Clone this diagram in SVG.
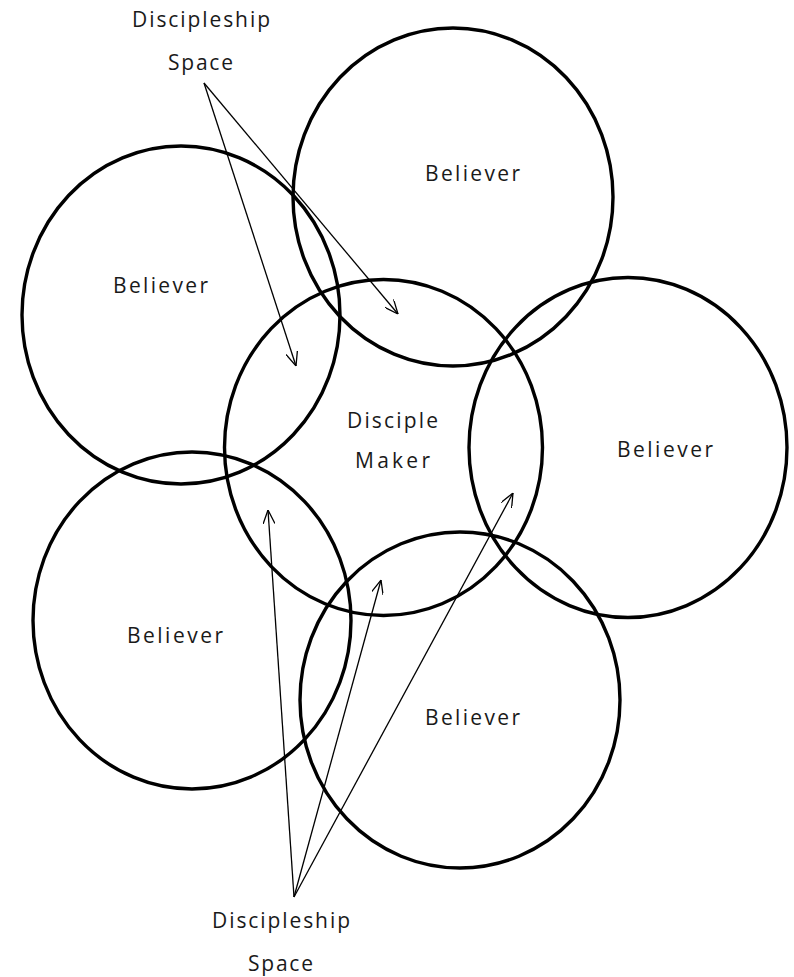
<svg xmlns="http://www.w3.org/2000/svg" width="794" height="977" viewBox="0 0 794 977">
<style>
.c{fill:none;stroke:#000;stroke-width:3.4}
.t{font-family:"Open Sans","Liberation Sans",sans-serif;font-size:21px;fill:#1a1a1a}
.a{fill:none;stroke:#000;stroke-width:1.3}
</style>
<defs>
<marker id="arr" viewBox="0 0 14 12" refX="14" refY="6" markerWidth="14" markerHeight="12" markerUnits="userSpaceOnUse" orient="auto">
<path d="M0,0 L14,6 L0,12" fill="none" stroke="#000" stroke-width="1.3"/>
</marker>
</defs>
<rect width="794" height="977" fill="#fff"/>
<g id="believer-top">
<ellipse class="c" cx="453" cy="197" rx="160" ry="169"/>
<text class="t" x="425" y="181" textLength="95" lengthAdjust="spacing">Believer</text>
</g>
<g id="believer-left">
<ellipse class="c" cx="181" cy="315" rx="159" ry="169"/>
<text class="t" x="113" y="293" textLength="95" lengthAdjust="spacing">Believer</text>
</g>
<g id="disciple-maker">
<ellipse class="c" cx="383.5" cy="447.5" rx="159" ry="168"/>
<text class="t" x="347" y="428" textLength="91" lengthAdjust="spacing">Disciple</text>
<text class="t" x="355" y="468" textLength="75" lengthAdjust="spacing">Maker</text>
</g>
<g id="believer-right">
<ellipse class="c" cx="628" cy="447.5" rx="159" ry="170"/>
<text class="t" x="617" y="457" textLength="96" lengthAdjust="spacing">Believer</text>
</g>
<g id="believer-bottom-left">
<ellipse class="c" cx="192" cy="620.5" rx="159" ry="168.5"/>
<text class="t" x="127" y="643" textLength="96" lengthAdjust="spacing">Believer</text>
</g>
<g id="believer-bottom-right">
<ellipse class="c" cx="460" cy="700" rx="160" ry="168"/>
<text class="t" x="425" y="725" textLength="95" lengthAdjust="spacing">Believer</text>
</g>
<g id="label-top">
<text class="t" x="132" y="27" textLength="138" lengthAdjust="spacing">Discipleship</text>
<text class="t" x="168" y="70" textLength="65" lengthAdjust="spacing">Space</text>
</g>
<g id="label-bottom">
<text class="t" x="212" y="928" textLength="138" lengthAdjust="spacing">Discipleship</text>
<text class="t" x="248" y="971" textLength="65" lengthAdjust="spacing">Space</text>
</g>
<g id="connectors">
<line class="a" x1="204" y1="83" x2="296" y2="366" marker-end="url(#arr)"/>
<line class="a" x1="204" y1="83" x2="398" y2="314" marker-end="url(#arr)"/>
<line class="a" x1="294" y1="897" x2="268" y2="510" marker-end="url(#arr)"/>
<line class="a" x1="294" y1="897" x2="381" y2="580" marker-end="url(#arr)"/>
<line class="a" x1="294" y1="897" x2="513" y2="493" marker-end="url(#arr)"/>
</g>
</svg>
